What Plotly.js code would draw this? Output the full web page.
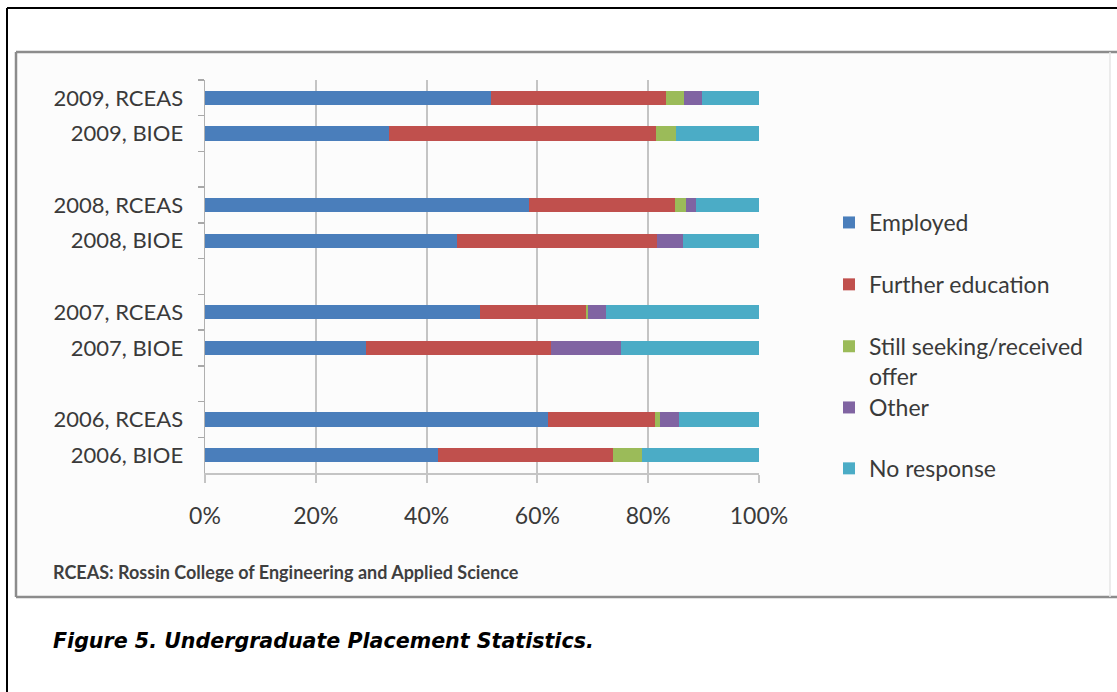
<!DOCTYPE html>
<html>
<head>
<meta charset="utf-8">
<script src="https://cdn.plot.ly/plotly-3.0.1.min.js"></script>
<style>
  html, body { margin: 0; padding: 0; background: #ffffff; }
  #chart { width: 1117px; height: 692px; }
</style>
</head>
<body>
<div id="chart"></div>
<script>
// Rows from top to bottom; the blank rows separate the years.
const categories = [
  '2009, RCEAS', '2009, BIOE', ' ',
  '2008, RCEAS', '2008, BIOE', '  ',
  '2007, RCEAS', '2007, BIOE', '   ',
  '2006, RCEAS', '2006, BIOE'
];

// Share of graduates in each outcome (percent of the row).
const employed        = [51.7, 33.3, null, 58.4, 45.4, null, 49.7, 29.1, null, 61.9, 42.0];
const furtherEduc     = [31.6, 48.1, null, 26.5, 36.2, null, 19.1, 33.4, null, 19.3, 31.7];
const stillSeeking    = [ 3.2,  3.7, null,  1.9,  0.0, null,  0.4,  0.0, null,  1.0,  5.1];
const other           = [ 3.2,  0.0, null,  1.8,  4.7, null,  3.1, 12.5, null,  3.4,  0.0];
const noResponse      = [10.3, 14.9, null, 11.4, 13.7, null, 27.7, 25.0, null, 14.4, 21.2];

const seriesNames = ['Employed', 'Further education', 'Still seeking/received<br>offer', 'Other', 'No response'];
const seriesColors = ['#4a7ebb', '#c0504d', '#9bbb59', '#8064a2', '#4bacc6'];
const seriesLegend = ['legend', 'legend', 'legend', 'legend2', 'legend2'];
const seriesValues = [employed, furtherEduc, stillSeeking, other, noResponse];

const xTickVals = [0, 0.2, 0.4, 0.6, 0.8, 1.0];

const footnote = 'RCEAS: Rossin College of Engineering and Applied Science';
const caption = 'Figure 5. Undergraduate Placement Statistics.';

const traces = seriesValues.map((vals, i) => ({
  type: 'bar',
  orientation: 'h',
  name: seriesNames[i],
  y: categories,
  x: vals.map(v => (v === null ? null : v / 100)),
  width: 0.4,
  marker: { color: seriesColors[i], line: { width: 0 } },
  legend: seriesLegend[i],
  legendgroup: 'g' + i,   // own group each, so the group gap spaces the items
  hoverinfo: 'skip'
}));

// Plot area in pixels: x 205..759, y 80..473
const L = 205, R = 759, T = 80, B = 473;
const px = x => (x - L) / (R - L);
const py = y => (B - y) / (B - T);

const grey = '#8c8c8c';
const shapes = [
  // chart area background and frame
  { type: 'rect', xref: 'paper', yref: 'paper', layer: 'below',
    x0: px(16), x1: px(1110), y0: py(597), y1: py(52),
    fillcolor: '#fcfcfc', line: { width: 0 } },
  { type: 'line', xref: 'paper', yref: 'paper', layer: 'below',
    x0: px(16), x1: px(1125), y0: py(52), y1: py(52), line: { color: grey, width: 2.5 } },
  { type: 'line', xref: 'paper', yref: 'paper', layer: 'below',
    x0: px(16), x1: px(1125), y0: py(597), y1: py(597), line: { color: grey, width: 2.5 } },
  { type: 'line', xref: 'paper', yref: 'paper', layer: 'below',
    x0: px(16), x1: px(16), y0: py(52), y1: py(597), line: { color: grey, width: 2.5 } },
  { type: 'line', xref: 'paper', yref: 'paper', layer: 'below',
    x0: px(1110), x1: px(1110), y0: py(52), y1: py(597), line: { color: '#e6e6e6', width: 1.5 } },
  // outer page frame
  { type: 'line', xref: 'paper', yref: 'paper', layer: 'below',
    x0: px(7), x1: px(1125), y0: py(8), y1: py(8), line: { color: '#000000', width: 2 } },
  { type: 'line', xref: 'paper', yref: 'paper', layer: 'below',
    x0: px(7), x1: px(7), y0: py(8), y1: py(700), line: { color: '#000000', width: 2 } }
];

const legendCommon = {
  xref: 'paper', yref: 'paper',
  xanchor: 'left', yanchor: 'top',
  orientation: 'v',
  traceorder: 'grouped',
  valign: 'top',
  bgcolor: 'rgba(0,0,0,0)',
  borderwidth: 0,
  itemclick: false, itemdoubleclick: false,
  font: { family: 'Lato, sans-serif', size: 23, color: '#3a3a3a' }
};

const layout = {
  width: 1117,
  height: 692,
  margin: { l: L, r: 1117 - R, t: T, b: 692 - B, pad: 0 },
  paper_bgcolor: '#ffffff',
  plot_bgcolor: 'rgba(0,0,0,0)',
  barmode: 'stack',
  bargap: 0.6,
  showlegend: true,
  font: { family: 'Lato, sans-serif', size: 22, color: '#3a3a3a' },
  xaxis: {
    range: [0, 1],
    tickvals: xTickVals,
    tickformat: '.0%',
    showgrid: true,
    gridcolor: '#c4c4c4',
    gridwidth: 2,
    zeroline: false,
    showline: true,
    linecolor: '#c4c4c4',
    linewidth: 1.5,
    ticks: 'outside',
    ticklen: 8,
    tickwidth: 2,
    tickcolor: '#c4c4c4',
    ticklabelstandoff: 14,
    tickfont: { family: 'Lato, sans-serif', size: 23, color: '#3a3a3a' },
    fixedrange: true
  },
  yaxis: {
    type: 'category',
    categoryorder: 'array',
    categoryarray: categories,
    autorange: 'reversed',
    tickson: 'boundaries',
    ticks: 'outside',
    ticklen: 6,
    tickwidth: 1.5,
    tickcolor: '#a8a8a8',
    showline: true,
    linecolor: '#b0b0b0',
    linewidth: 1.5,
    showgrid: false,
    zeroline: false,
    ticklabelstandoff: 16,
    tickfont: { family: 'Lato, sans-serif', size: 22, color: '#3a3a3a' },
    fixedrange: true
  },
  legend: Object.assign({}, legendCommon, { x: px(829), y: py(201), tracegroupgap: 29 }),
  legend2: Object.assign({}, legendCommon, { x: px(829), y: py(386), tracegroupgap: 28 }),
  shapes: shapes,
  annotations: [
    { xref: 'paper', yref: 'paper', x: px(51), y: py(572), xanchor: 'left', yanchor: 'middle',
      showarrow: false, text: footnote,
      font: { family: 'Lato, sans-serif', size: 18, weight: 'bold', color: '#3f3f3f' } },
    { xref: 'paper', yref: 'paper', x: px(51), y: py(641), xanchor: 'left', yanchor: 'middle',
      showarrow: false, text: caption,
      font: { family: 'DejaVu Sans, sans-serif', size: 20.6, weight: 'bold', style: 'italic', color: '#000000' } }
  ]
};

Plotly.newPlot('chart', traces, layout, { displayModeBar: false, staticPlot: true });
</script>
</body>
</html>
